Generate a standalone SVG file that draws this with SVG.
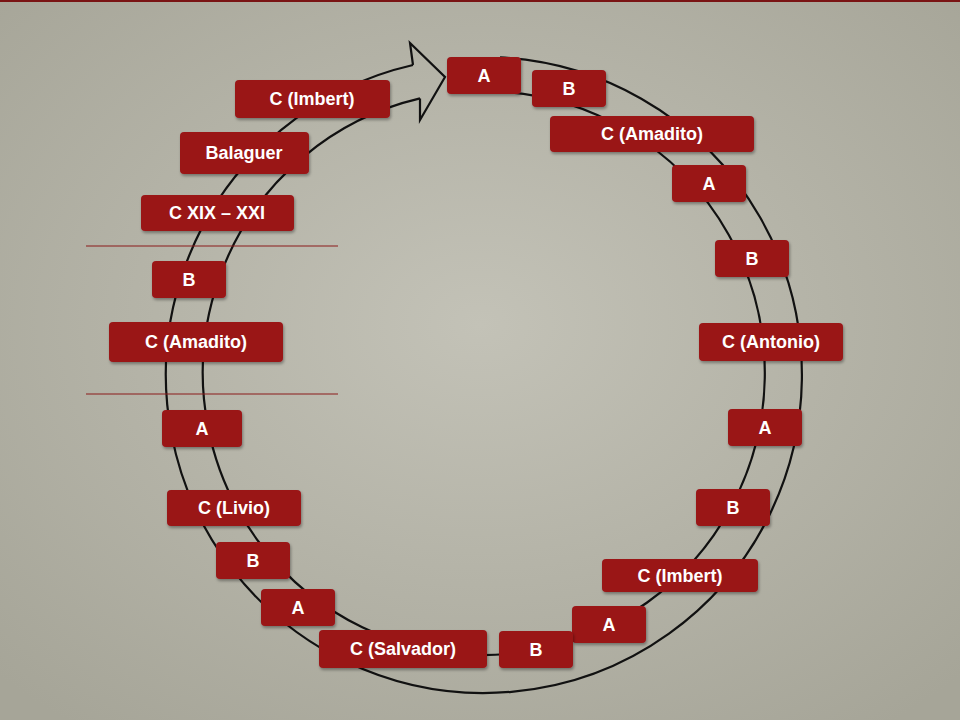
<svg xmlns="http://www.w3.org/2000/svg" width="960" height="720" viewBox="0 0 960 720">
<defs>
<radialGradient id="bg" cx="50%" cy="45%" r="70%">
<stop offset="0" stop-color="#c3c2b7"/><stop offset="1" stop-color="#a6a598"/>
</radialGradient>
<filter id="sh" x="-20%" y="-30%" width="140%" height="160%"><feDropShadow dx="1" dy="2" stdDeviation="1.5" flood-color="#000" flood-opacity="0.35"/></filter>
</defs>
<style>
.ring{fill:none;stroke:#111;stroke-width:2.2}
.sep{stroke:#8b1a1a;stroke-width:1}
.box rect{fill:#9a1418;filter:url(#sh)}
.box text{fill:#fff;font-family:"Liberation Sans",Arial,sans-serif;font-weight:bold;font-size:18px;text-anchor:middle;dominant-baseline:central}
</style>
<rect width="960" height="720" fill="url(#bg)"/>
<rect width="960" height="2" fill="#7a1414"/>
<g id="connectors">
<path class="ring" d="M500,57.4 A318,318 0 1 1 413,65"/>
<path class="ring" d="M500,91.5 A281,282 0 1 1 420,98.4"/>
<path class="ring" d="M500,57.4 L500,91.5"/>
<path class="ring" d="M413,65 L410,43 L445,77 L420,120 L420,98.4" stroke-linejoin="miter"/>
<line class="sep" x1="86" y1="246" x2="338" y2="246"/>
<line class="sep" x1="86" y1="394" x2="338" y2="394"/>
</g>
<g id="n1" class="box"><rect x="447" y="57" width="74" height="37" rx="4"/><text x="484" y="75.5">A</text></g>
<g id="n2" class="box"><rect x="532" y="70" width="74" height="37" rx="4"/><text x="569" y="88.5">B</text></g>
<g id="n3" class="box"><rect x="550" y="116" width="204" height="36" rx="4"/><text x="652" y="134">C (Amadito)</text></g>
<g id="n4" class="box"><rect x="672" y="165" width="74" height="37" rx="4"/><text x="709" y="183.5">A</text></g>
<g id="n5" class="box"><rect x="715" y="240" width="74" height="37" rx="4"/><text x="752" y="258.5">B</text></g>
<g id="n6" class="box"><rect x="699" y="323" width="144" height="38" rx="4"/><text x="771" y="342">C (Antonio)</text></g>
<g id="n7" class="box"><rect x="728" y="409" width="74" height="37" rx="4"/><text x="765" y="427.5">A</text></g>
<g id="n8" class="box"><rect x="696" y="489" width="74" height="37" rx="4"/><text x="733" y="507.5">B</text></g>
<g id="n9" class="box"><rect x="602" y="559" width="156" height="33" rx="4"/><text x="680" y="575.5">C (Imbert)</text></g>
<g id="n10" class="box"><rect x="572" y="606" width="74" height="37" rx="4"/><text x="609" y="624.5">A</text></g>
<g id="n11" class="box"><rect x="499" y="631" width="74" height="37" rx="4"/><text x="536" y="649.5">B</text></g>
<g id="n12" class="box"><rect x="319" y="630" width="168" height="38" rx="4"/><text x="403" y="649">C (Salvador)</text></g>
<g id="n13" class="box"><rect x="261" y="589" width="74" height="37" rx="4"/><text x="298" y="607.5">A</text></g>
<g id="n14" class="box"><rect x="216" y="542" width="74" height="37" rx="4"/><text x="253" y="560.5">B</text></g>
<g id="n15" class="box"><rect x="167" y="490" width="134" height="36" rx="4"/><text x="234" y="508">C (Livio)</text></g>
<g id="n16" class="box"><rect x="162" y="410" width="80" height="37" rx="4"/><text x="202" y="428.5">A</text></g>
<g id="n17" class="box"><rect x="109" y="322" width="174" height="40" rx="4"/><text x="196" y="342">C (Amadito)</text></g>
<g id="n18" class="box"><rect x="152" y="261" width="74" height="37" rx="4"/><text x="189" y="279.5">B</text></g>
<g id="n19" class="box"><rect x="141" y="195" width="153" height="36" rx="4"/><text x="217" y="213">C XIX – XXI</text></g>
<g id="n20" class="box"><rect x="180" y="132" width="129" height="42" rx="4"/><text x="244" y="153">Balaguer</text></g>
<g id="n21" class="box"><rect x="235" y="80" width="155" height="38" rx="4"/><text x="312" y="99">C (Imbert)</text></g>
</svg>
